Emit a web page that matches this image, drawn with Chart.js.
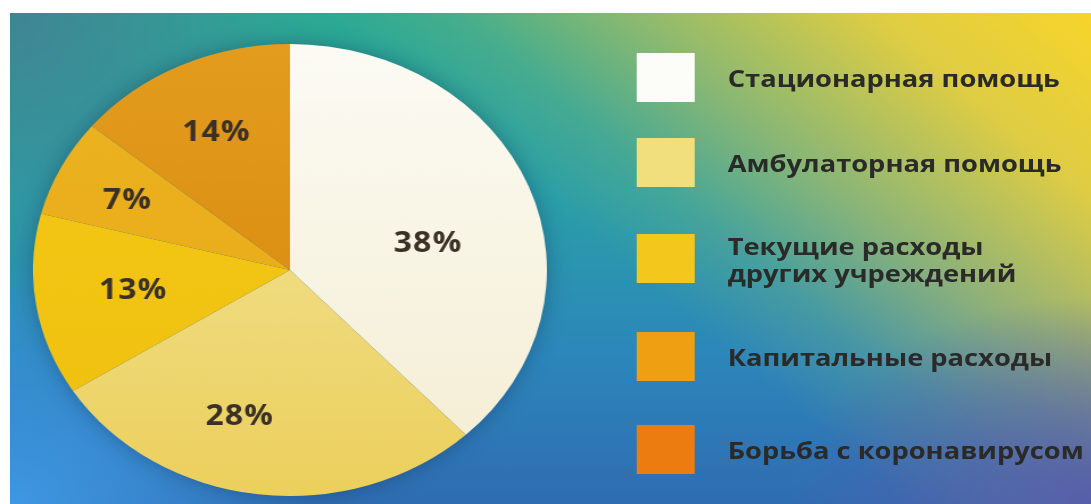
<!DOCTYPE html>
<html lang="ru">
<head>
<meta charset="utf-8">
<script src="https://cdn.jsdelivr.net/npm/chart.js@4/dist/chart.umd.min.js"></script>
<style>
  html, body { margin: 0; padding: 0; background: #fff; }
  body { width: 1091px; height: 504px; position: relative; overflow: hidden; }
  #bg {
    position: absolute; left: 10px; top: 13px; right: 0; bottom: 0;
    background:
      radial-gradient(ellipse 28% 42% at 100% 100%, rgba(86,94,170,1) 0%, rgba(86,94,170,0.6) 45%, rgba(86,94,170,0) 100%),
      linear-gradient(220deg, rgba(247,212,42,1) 0%, rgba(238,208,60,0.92) 13%, rgba(200,196,88,0.6) 28%, rgba(150,190,110,0.25) 38%, rgba(120,190,120,0) 46%),
      radial-gradient(ellipse 28% 55% at 0% 0%, rgba(66,128,148,0.9) 0%, rgba(66,128,148,0) 100%),
      radial-gradient(ellipse 30% 50% at 0% 100%, rgba(62,152,226,1) 0%, rgba(62,152,226,0) 100%),
      linear-gradient(180deg, #2ca994 0%, #2a9ea8 38%, #2c86ba 70%, #2f6cb2 100%);
  }
  #stage {
    position: absolute; left: 0; top: 0; width: 960px; height: 504px;
    transform: scaleX(1.137); transform-origin: 0 0;
  }
  #pieBox {
    position: absolute; left: 29px; top: 44px; width: 452px; height: 452px;
    filter: drop-shadow(0 0 10px rgba(10, 30, 70, 0.35));
  }
  .item { position: absolute; left: 560px; }
  .item .sw { position: absolute; left: 0; top: 0; width: 51px; height: 49px; }
  .item .tx {
    position: absolute; left: 80px; top: 0; height: 49px; display: flex; align-items: center;
    font-family: "Open Sans", sans-serif; font-weight: 700; font-size: 24px; line-height: 27px;
    color: #2a2a28; white-space: nowrap;
  }
</style>
</head>
<body>
<div id="bg"></div>
<div id="stage">
  <div id="pieBox"><canvas id="pieChart"></canvas></div>
  <div id="legend"></div>
</div>
<script>
const categories = [
  'Стационарная помощь',
  'Амбулаторная помощь',
  'Текущие расходы\nдругих учреждений',
  'Капитальные расходы',
  'Борьба с коронавирусом'
];
const shares = [38, 28, 13, 7, 14];
// each slice shades a little from its top to its bottom
const sliceTop = ['#fcfbf4', '#f3e6a2', '#f5ca18', '#edb422', '#e39c1e'];
const sliceBottom = ['#f4edd2', '#ecd05c', '#efbf0e', '#e8a614', '#d5840a'];
const legendColors = ['#fcfcf9', '#f1df7e', '#f4c71c', '#eea012', '#ec7b10'];

// legend rows, top of each swatch
const legendTops = [53, 138, 234, 332, 425];

const legend = document.getElementById('legend');
categories.forEach((name, i) => {
  const row = document.createElement('div');
  row.className = 'item';
  row.style.top = legendTops[i] + 'px';
  const sw = document.createElement('div');
  sw.className = 'sw';
  sw.style.background = legendColors[i];
  const tx = document.createElement('div');
  tx.className = 'tx';
  tx.innerHTML = name.split('\n').join('<br>');
  row.appendChild(sw);
  row.appendChild(tx);
  legend.appendChild(row);
});

// percentage labels inside the slices, nudged off the mid-angle a bit
const sliceLabels = {
  id: 'sliceLabels',
  afterDatasetsDraw(chart, args, opts) {
    const ctx = chart.ctx;
    const meta = chart.getDatasetMeta(0);
    ctx.save();
    ctx.font = '700 28px "Open Sans", sans-serif';
    ctx.letterSpacing = '1px';
    ctx.fillStyle = '#3a3126';
    ctx.textAlign = 'center';
    ctx.textBaseline = 'middle';
    meta.data.forEach((arc, i) => {
      const p = arc.getProps(['x', 'y', 'startAngle', 'endAngle', 'outerRadius'], true);
      const mid = (p.startAngle + p.endAngle) / 2;
      const r = p.outerRadius * 0.64;
      const [dx, dy] = opts.nudge[i];
      ctx.fillText(shares[i] + '%', p.x + Math.cos(mid) * r + dx, p.y + Math.sin(mid) * r + dy);
    });
    ctx.restore();
  }
};

function sliceFill(context) {
  const chart = context.chart;
  const area = chart.chartArea;
  if (!area) return sliceTop[context.dataIndex];
  const g = chart.ctx.createLinearGradient(0, area.top, 0, area.bottom);
  g.addColorStop(0, sliceTop[context.dataIndex]);
  g.addColorStop(1, sliceBottom[context.dataIndex]);
  return g;
}

new Chart(document.getElementById('pieChart'), {
  type: 'pie',
  data: {
    labels: categories,
    datasets: [{
      data: shares,
      backgroundColor: sliceFill,
      borderWidth: 0,
      hoverOffset: 0
    }]
  },
  options: {
    responsive: true,
    maintainAspectRatio: false,
    animation: false,
    layout: { padding: 0 },
    plugins: {
      legend: { display: false },
      tooltip: { enabled: false },
      sliceLabels: { nudge: [[-13, 27], [-26, 4], [5, -2], [-14, -3], [-3, -6]] }
    }
  },
  plugins: [sliceLabels]
});
</script>
</body>
</html>
